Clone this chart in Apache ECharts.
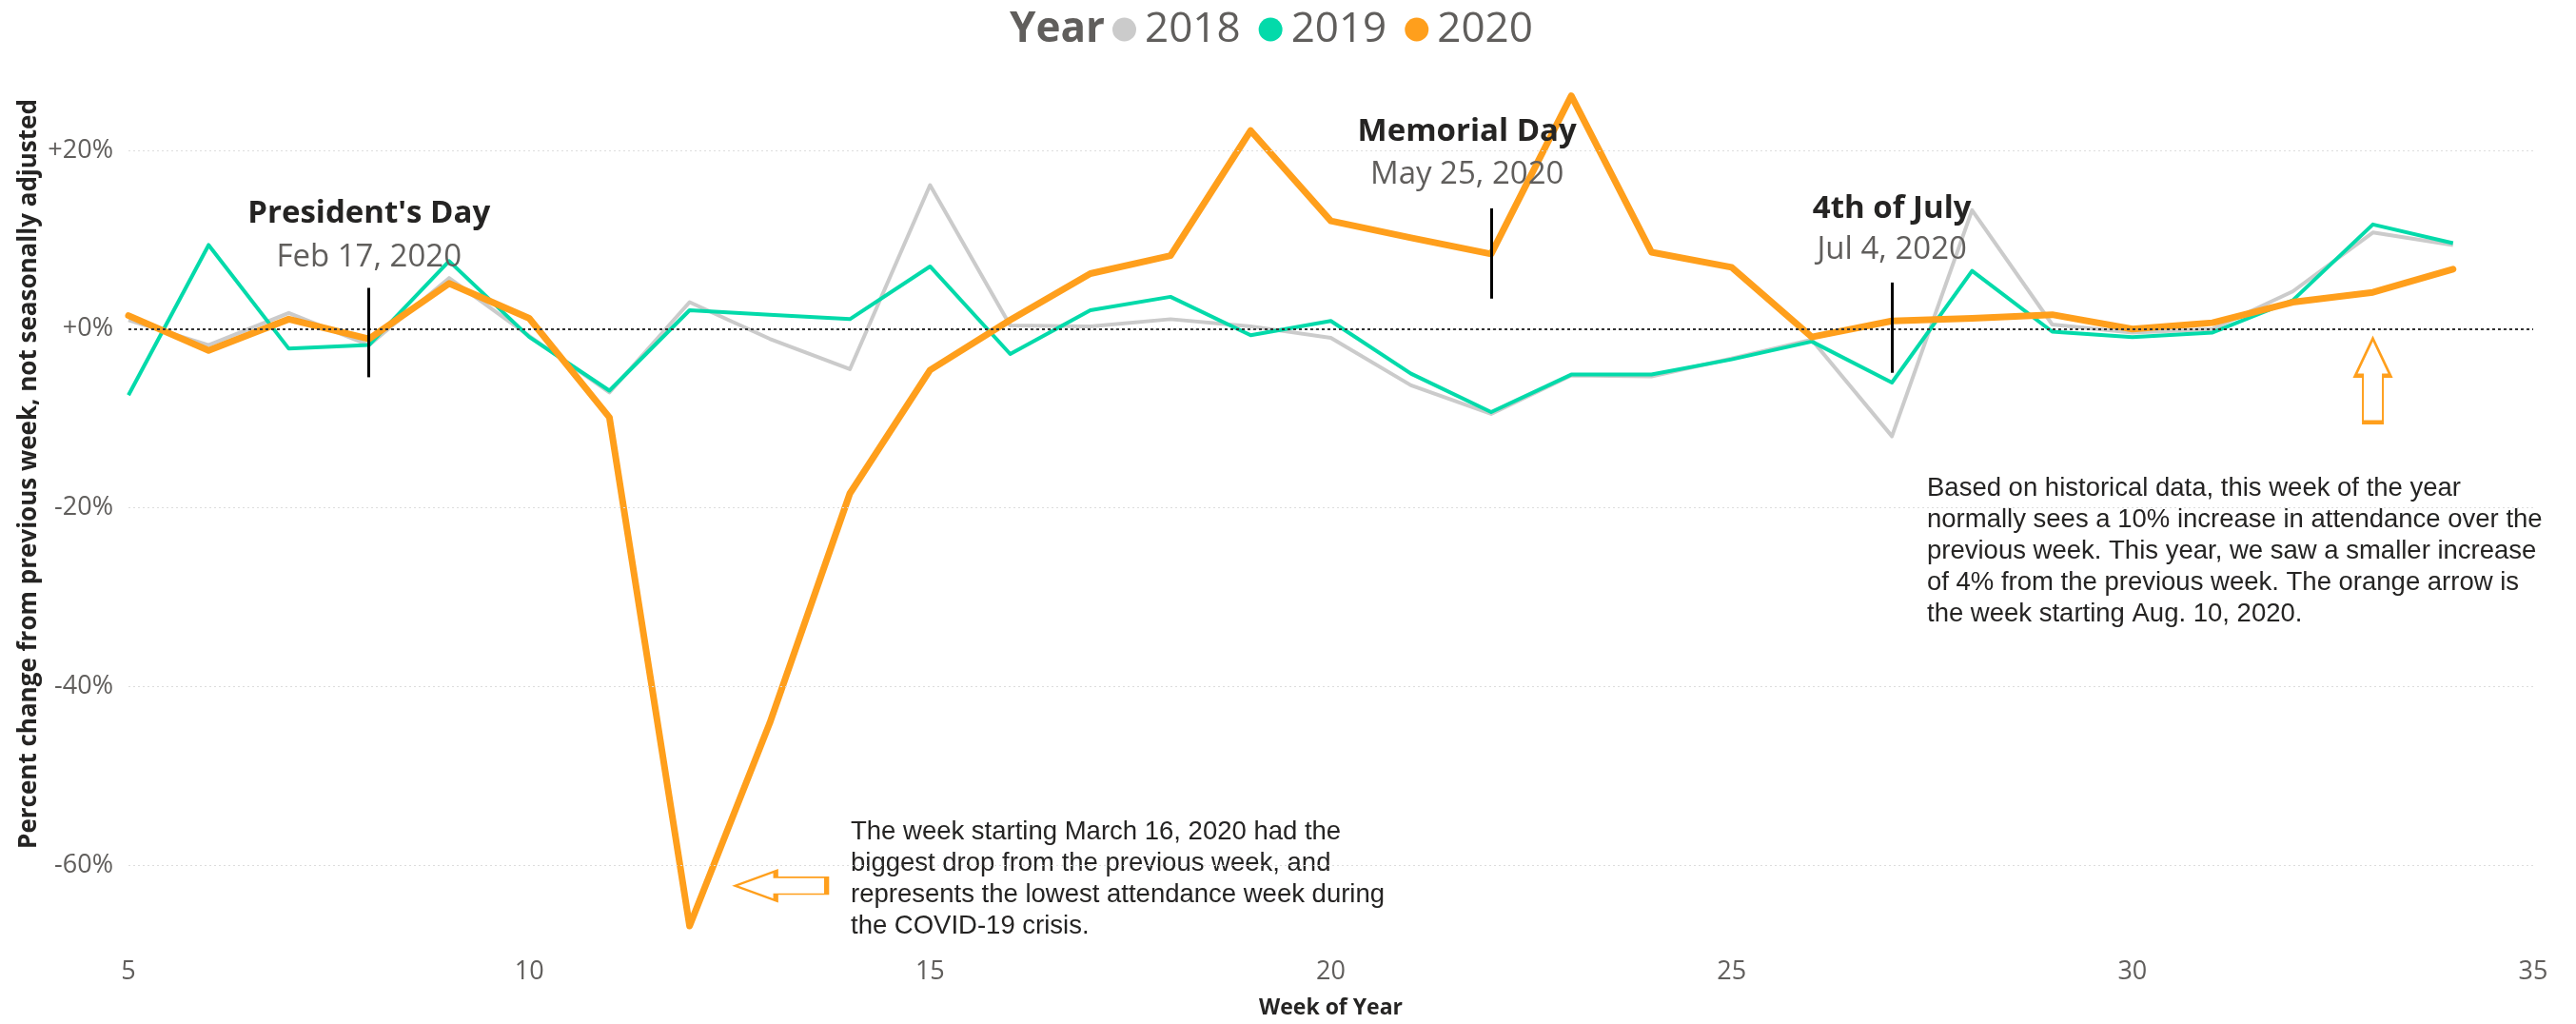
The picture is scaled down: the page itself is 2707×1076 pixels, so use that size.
<!DOCTYPE html>
<html>
<head>
<meta charset="utf-8">
<title>Weekly attendance change</title>
<script src="https://cdn.jsdelivr.net/npm/echarts@6/dist/echarts.min.js"></script>
<style>
  html, body { margin: 0; padding: 0; background: #fff; }
  #chart { width: 2707px; height: 1076px; }
</style>
</head>
<body>
<div id="chart"></div>
<script>
// week of year on x, % change vs previous week on y
var weeks = [5, 6, 7, 8, 9, 10, 11, 12, 13, 14, 15, 16, 17, 18, 19, 20, 21, 22, 23, 24, 25, 26, 27, 28, 29, 30, 31, 32, 33, 34]
var y2018 = [1.0, -1.8, 1.8, -1.8, 5.7, -0.8, -7.1, 3.0, -1.1, -4.5, 16.1, 0.4, 0.3, 1.1, 0.3, -1.0, -6.3, -9.5, -5.2, -5.3, -3.3, -1.2, -12.0, 13.3, 0.5, -0.4, 0.0, 4.2, 10.8, 9.4]
var y2019 = [-7.4, 9.4, -2.2, -1.8, 7.6, -0.9, -6.9, 2.1, 1.6, 1.1, 7.0, -2.8, 2.1, 3.6, -0.7, 0.9, -5.0, -9.3, -5.1, -5.1, -3.4, -1.4, -6.0, 6.5, -0.3, -0.9, -0.4, 3.2, 11.7, 9.6]
var y2020 = [1.5, -2.4, 1.1, -1.1, 5.1, 1.2, -9.9, -66.8, -44.1, -18.4, -4.6, 1.0, 6.2, 8.2, 22.2, 12.1, 10.2, 8.4, 26.1, 8.6, 6.9, -0.9, 0.9, 1.2, 1.6, 0.0, 0.7, 3.0, 4.1, 6.7]
var yearNames = ["2018", "2019", "2020"]
var yTicks = [-60, -40, -20, 0, 20]

var holidays = [
  { name: "President's Day", date: "Feb 17, 2020", week: 8, labelWeek: 8, nameY: 12.9, dateY: 8.0, from: 4.6, to: -5.4 },
  { name: "Memorial Day", date: "May 25, 2020", week: 22, labelWeek: 21.7, nameY: 22.1, dateY: 17.3, from: 13.5, to: 3.4 },
  { name: "4th of July", date: "Jul 4, 2020", week: 27, labelWeek: 27, nameY: 13.4, dateY: 8.8, from: 5.2, to: -4.9 }
]

var OS = '"Open Sans", "Noto Sans", sans-serif'
var AR = '"Liberation Sans", Arial, sans-serif'
var colors = ["#CBCBCB", "#03DAAA", "#FF9F1C"]
var arrowPath = "path://M18.5 0 L37 39 L29 39 L29 88 L8 88 L8 39 L0 39 Z"

function pairs(vals) {
  return weeks.map(function (w, i) { return [w, vals[i]] })
}

var myChart = echarts.init(document.getElementById("chart"))

var holidayLines = holidays.map(function (h) {
  return [{ coord: [h.week, h.from] }, { coord: [h.week, h.to] }]
})
var holidayLabels = []
holidays.forEach(function (h) {
  holidayLabels.push({
    coord: [h.labelWeek, h.nameY],
    label: { formatter: h.name, fontFamily: OS, fontWeight: "bold", fontSize: 33, color: "#252423" }
  })
  holidayLabels.push({
    coord: [h.labelWeek, h.dateY],
    label: { formatter: h.date, fontFamily: OS, fontSize: 33, color: "#605E5C" }
  })
})

var arrows = [
  { coord: [33, -5.75], symbol: arrowPath, symbolSize: [37, 88], symbolRotate: 0 },
  { coord: [13.14, -62.3], symbol: arrowPath, symbolSize: [31, 96], symbolRotate: 90 }
].map(function (a) {
  a.itemStyle = { color: "rgba(255,255,255,0)", borderColor: "#FF9F1C", borderWidth: 3 }
  a.label = { show: false }
  return a
})

var option = {
  backgroundColor: "#ffffff",
  animation: false,
  title: {
    text: "Year",
    left: 1061,
    top: 9,
    padding: 0,
    textStyle: { fontFamily: OS, fontWeight: "bold", fontSize: 44, color: "#605E5C" }
  },
  legend: {
    data: yearNames,
    left: 1169,
    top: 9,
    padding: 0,
    icon: "circle",
    itemWidth: 25,
    itemHeight: 25,
    itemGap: 19,
    textStyle: { fontFamily: OS, fontSize: 44, color: "#605E5C", padding: [0, 0, 0, 4] }
  },
  grid: { left: 135, right: 45, top: 64, bottom: 70 },
  xAxis: {
    type: "value",
    min: 5,
    max: 35,
    interval: 5,
    name: "Week of Year",
    nameLocation: "middle",
    nameGap: 45,
    nameTextStyle: { fontFamily: OS, fontWeight: "bold", fontSize: 23, color: "#252423" },
    axisLine: { show: false },
    axisTick: { show: false },
    splitLine: { show: false },
    axisLabel: { fontFamily: OS, fontSize: 27, color: "#605E5C", margin: 5 }
  },
  yAxis: {
    type: "value",
    min: -70,
    max: 30,
    interval: 10,
    axisLine: { show: false },
    axisTick: { show: false },
    splitLine: { show: false },
    axisLabel: {
      fontFamily: OS,
      fontSize: 27,
      color: "#605E5C",
      margin: 16,
      formatter: function (v) {
        if (yTicks.indexOf(v) < 0) return ""
        return (v >= 0 ? "+" : "") + v + "%"
      }
    }
  },
  graphic: [
    {
      type: "text",
      x: 31,
      y: 498,
      rotation: Math.PI / 2,
      style: {
        text: "Percent change from previous week, not seasonally adjusted",
        font: "bold 26px " + OS,
        fill: "#252423",
        align: "center",
        verticalAlign: "middle"
      }
    },
    {
      type: "text",
      x: 894,
      y: 858,
      style: {
        text: "The week starting March 16, 2020 had the\nbiggest drop from the previous week, and\nrepresents the lowest attendance week during\nthe COVID-19 crisis.",
        font: "27.5px " + AR,
        lineHeight: 33,
        fill: "#252423",
        verticalAlign: "top"
      }
    },
    {
      type: "text",
      x: 2025,
      y: 497,
      style: {
        text: "Based on historical data, this week of the year\nnormally sees a 10% increase in attendance over the\nprevious week. This year, we saw a smaller increase\nof 4% from the previous week. The orange arrow is\nthe week starting Aug. 10, 2020.",
        font: "27.5px " + AR,
        lineHeight: 33,
        fill: "#252423",
        verticalAlign: "top"
      }
    }
  ],
  series: [
    {
      name: "2018",
      type: "line",
      data: pairs(y2018),
      showSymbol: false,
      color: colors[0],
      lineStyle: { width: 4, join: "round" },
      z: 2,
      markLine: {
        silent: true,
        symbol: ["none", "none"],
        label: { show: false },
        lineStyle: { color: "#DDDDDD", type: [2, 3], width: 1 },
        data: yTicks.filter(function (v) { return v !== 0 }).map(function (v) { return { yAxis: v } })
      }
    },
    {
      name: "2019",
      type: "line",
      data: pairs(y2019),
      showSymbol: false,
      color: colors[1],
      lineStyle: { width: 4, join: "round" },
      z: 3
    },
    {
      name: "2020",
      type: "line",
      data: pairs(y2020),
      showSymbol: false,
      color: colors[2],
      lineStyle: { width: 7, join: "round", cap: "round" },
      z: 4,
      markLine: {
        silent: true,
        symbol: ["none", "none"],
        label: { show: false },
        lineStyle: { color: "#000000", type: "solid", width: 3 },
        data: [{ yAxis: 0, lineStyle: { color: "#333333", type: [3, 3], width: 2 } }].concat(holidayLines)
      },
      markPoint: {
        silent: true,
        symbol: "circle",
        symbolSize: 1,
        itemStyle: { color: "rgba(0,0,0,0)" },
        label: { show: true, position: "inside" },
        data: holidayLabels.concat(arrows)
      }
    }
  ]
}

myChart.setOption(option)
</script>
</body>
</html>
